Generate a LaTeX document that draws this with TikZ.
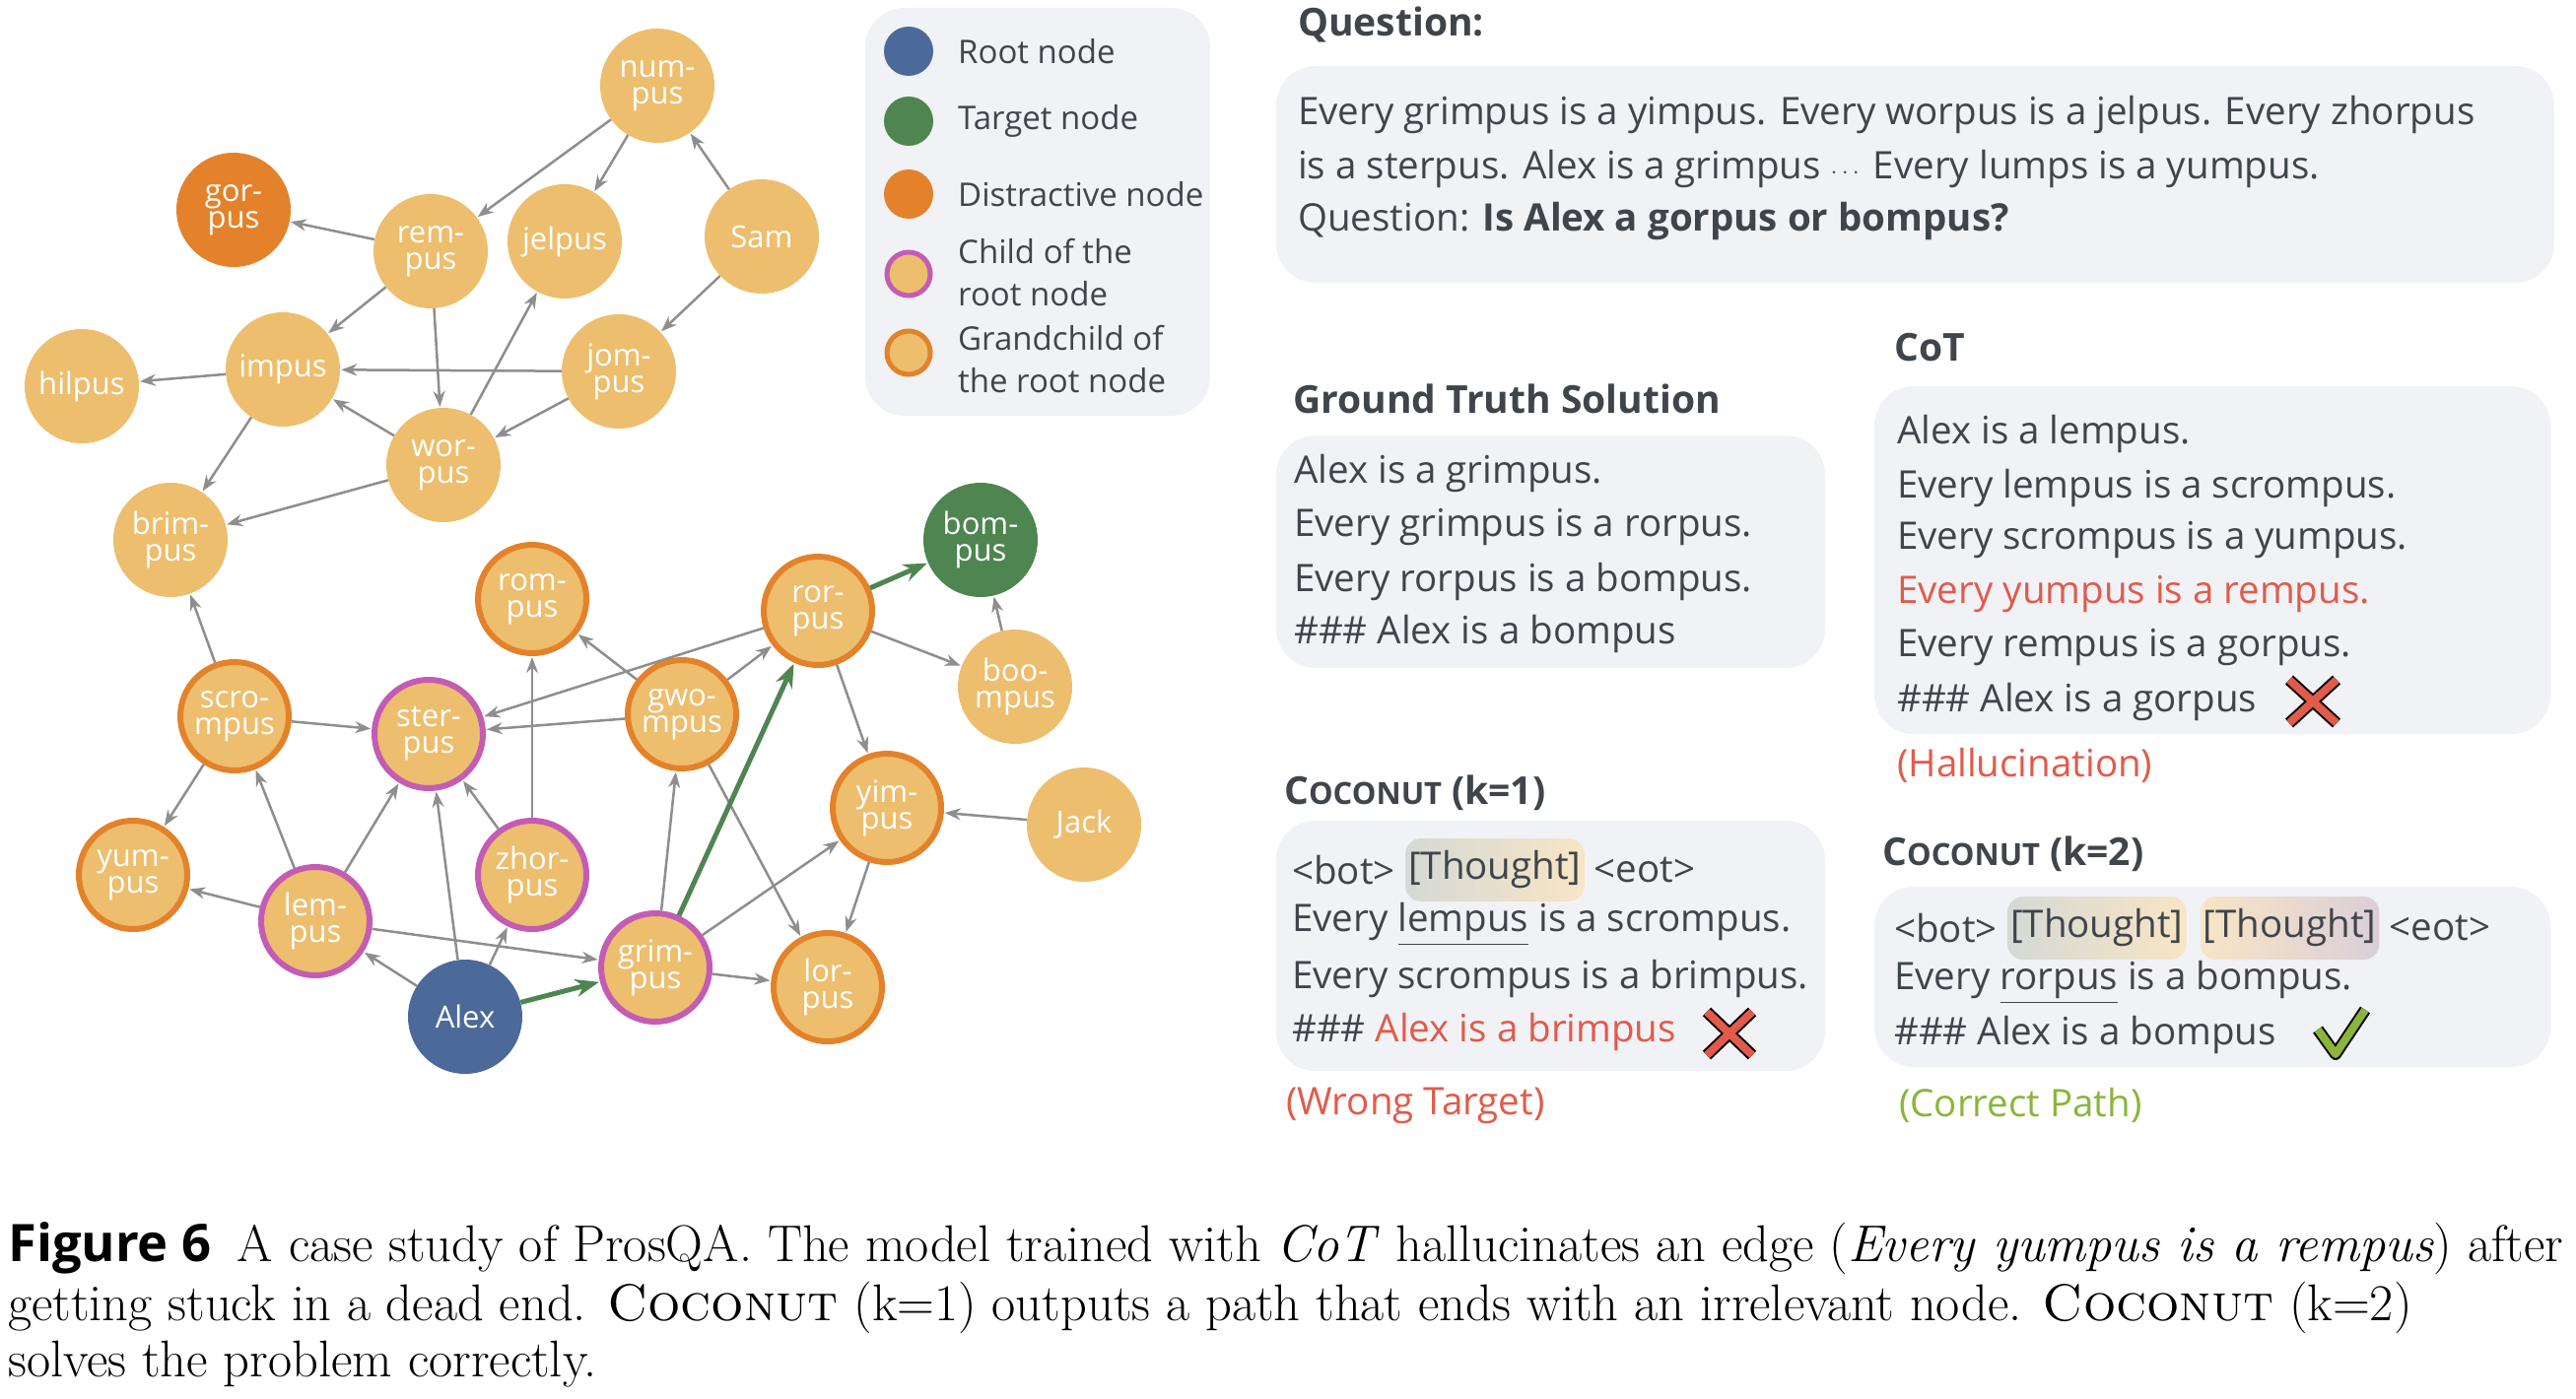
\documentclass[tikz,border=0pt]{standalone}
\usepackage{fontspec}
\usepackage{amsmath}
\usetikzlibrary{arrows.meta,positioning}
\newfontfamily\osans{Open Sans}
\definecolor{yel}{HTML}{EDBE6E}
\definecolor{org}{HTML}{E3822A}
\definecolor{pur}{HTML}{C45CB4}
\definecolor{rootc}{HTML}{4B6A99}
\definecolor{tgt}{HTML}{4E8550}
\definecolor{edg}{HTML}{8E8E8E}
\definecolor{boxc}{HTML}{F1F2F6}
\definecolor{txt}{HTML}{3F454B}
\definecolor{redc}{HTML}{E25A4A}
\definecolor{oliv}{HTML}{8AB53A}
\newcommand{\coco}{C{\fontsize{31}{34}\selectfont OCONUT}}

\begin{document}
\begin{tikzpicture}[x=1pt, y=-1pt, inner sep=0pt]
    \tikzstyle{nd}=[circle, minimum size=116pt, fill=yel, text=white, align=center,
        font=\osans\fontsize{31}{27}\selectfont]
    \tikzstyle{ch}=[nd, draw=pur, line width=6pt, minimum size=110pt]
    \tikzstyle{gc}=[nd, draw=org, line width=6pt, minimum size=110pt]
    \tikzstyle{ds}=[nd, fill=org]
    \tikzstyle{rt}=[nd, fill=rootc]
    \tikzstyle{tg}=[nd, fill=tgt]
    \tikzstyle{e}=[-{Stealth[length=16pt,width=12pt]}, draw=edg, line width=2.5pt, shorten >=1pt]
    \tikzstyle{p}=[-{Stealth[length=24pt,width=18pt]}, draw=tgt, line width=5pt, shorten >=1pt]
    \tikzstyle{bx}=[fill=boxc, rounded corners=40pt]
    \tikzstyle{tx}=[anchor=west, text=txt, font=\osans\fontsize{38.5}{40}\selectfont]
    \tikzstyle{hd}=[anchor=west, text=txt, font=\osans\bfseries\fontsize{39}{40}\selectfont]
    \tikzstyle{lg}=[anchor=west, text=txt, font=\osans\fontsize{33}{43}\selectfont, align=left]
    \tikzstyle{lgdot}=[circle, minimum size=50pt]
    \tikzstyle{th}=[text=txt, font=\osans\fontsize{38.5}{40}\selectfont, rounded corners=16pt,
        inner xsep=3pt, minimum height=64pt, text depth=10pt]
    \tikzstyle{thA}=[th, left color=tgt!25!gray!30!white, right color=yel!40!white]
    \tikzstyle{thB}=[th, left color=yel!40!white, right color=pur!30!gray!35!white]

    \useasboundingbox (0,0) rectangle (2614,1420);
    \fill[white] (0,0) rectangle (2614,1420);

    % legend
    \fill[bx] (878,8) rectangle (1228,422);
    \node[lgdot, fill=rootc] (L1) at (922,52) {};
    \node[lgdot, fill=tgt] (L2) at (922,123) {};
    \node[lgdot, fill=org] (L3) at (922,197) {};
    \node[lgdot, fill=yel, draw=pur, line width=5pt, minimum size=44pt] (L4) at (922,278) {};
    \node[lgdot, fill=yel, draw=org, line width=5pt, minimum size=44pt] (L5) at (922,358) {};
    \node[lg] at (972,52) {Root node};
    \node[lg] at (972,123) {Target node};
    \node[lg] at (972,197) {Distractive node};
    \node[lg] at (972,277) {Child of the\\root node};
    \node[lg] at (972,365) {Grandchild of\\the root node};

    % graph
    \node[nd] (num) at (667,87) {num-\\pus};
    \node[ds] (gor) at (237,213) {gor-\\pus};
    \node[nd] (rem) at (437,255) {rem-\\pus};
    \node[nd] (jel) at (573,245) {jelpus};
    \node[nd] (sam) at (773,240) {Sam};
    \node[nd] (hil) at (83,392) {hilpus};
    \node[nd] (imp) at (287,375) {impus};
    \node[nd] (jom) at (628,377) {jom-\\pus};
    \node[nd] (wor) at (450,472) {wor-\\pus};
    \node[nd] (bri) at (173,548) {brim-\\pus};
    \node[gc] (rom) at (540,608) {rom-\\pus};
    \node[gc] (ror) at (830,620) {ror-\\pus};
    \node[tg] (bom) at (995,548) {bom-\\pus};
    \node[nd] (boo) at (1030,697) {boo-\\mpus};
    \node[gc] (scr) at (238,727) {scro-\\mpus};
    \node[ch] (ste) at (435,745) {ster-\\pus};
    \node[gc] (gwo) at (692,725) {gwo-\\mpus};
    \node[gc] (yim) at (900,820) {yim-\\pus};
    \node[nd] (jac) at (1100,837) {Jack};
    \node[gc] (yum) at (135,888) {yum-\\pus};
    \node[ch] (lem) at (320,935) {lem-\\pus};
    \node[ch] (zho) at (540,888) {zhor-\\pus};
    \node[ch] (gri) at (665,982) {grim-\\pus};
    \node[gc] (lor) at (840,1002) {lor-\\pus};
    \node[rt] (alx) at (472,1032) {Alex};

    \draw[e] (num) to (rem);
    \draw[e] (num) to (jel);
    \draw[e] (sam) to (num);
    \draw[e] (sam) to (jom);
    \draw[e] (rem) to (gor);
    \draw[e] (rem) to (imp);
    \draw[e] (rem) to (wor);
    \draw[e] (imp) to (hil);
    \draw[e] (jom) to (imp);
    \draw[e] (wor) to (jel);
    \draw[e] (wor) to (imp);
    \draw[e] (jom) to (wor);
    \draw[e] (imp) to (bri);
    \draw[e] (wor) to (bri);
    \draw[e] (scr) to (bri);
    \draw[e] (scr) to (ste);
    \draw[e] (scr) to (yum);
    \draw[e] (lem) to (scr);
    \draw[e] (lem) to (ste);
    \draw[e] (lem) to (yum);
    \draw[e] (lem) to (gri);
    \draw[e] (alx) to (lem);
    \draw[e] (alx) to (ste);
    \draw[e] (alx) to (zho);
    \draw[e] (zho) to (ste);
    \draw[e] (zho) to (rom);
    \draw[e] (gwo) to (rom);
    \draw[e] (gwo) to (ste);
    \draw[e] (gwo) to (ror);
    \draw[e] (ror) to (ste);
    \draw[e] (ror) to (boo);
    \draw[e] (ror) to (yim);
    \draw[e] (boo) to (bom);
    \draw[e] (jac) to (yim);
    \draw[e] (yim) to (lor);
    \draw[e] (gri) to (gwo);
    \draw[e] (gri) to (yim);
    \draw[e] (gri) to (lor);
    \draw[e] (gwo) to (lor);
    \draw[p] (alx) to (gri);
    \draw[p] (gri) to (ror);
    \draw[p] (ror) to (bom);

    % question
    \node[hd] (qh) at (1317,25) {Question:};
    \fill[bx] (1295,67) rectangle (2592,287);
    \node[tx] (q1) at (1317,117) {Every grimpus is a yimpus. Every worpus is a jelpus. Every zhorpus};
    \node[tx] (q2) at (1317,172) {is a sterpus. Alex is a grimpus $\cdots$ Every lumps is a yumpus.};
    \node[tx] (q3) at (1317,225) {Question: \textbf{Is Alex a gorpus or bompus?}};

    % ground truth
    \node[hd] (gh) at (1312,405) {Ground Truth Solution};
    \fill[bx] (1295,442) rectangle (1852,678);
    \node[tx] (g1) at (1313,480) {Alex is a grimpus.};
    \node[tx] (g2) at (1313,535) {Every grimpus is a rorpus.};
    \node[tx] (g3) at (1313,590) {Every rorpus is a bompus.};
    \node[tx] (g4) at (1313,643) {\#\#\# Alex is a bompus};

    % cot
    \node[hd] (ch) at (1922,353) {CoT};
    \fill[bx] (1902,392) rectangle (2588,745);
    \node[tx] (c1) at (1925,440) {Alex is a lempus.};
    \node[tx] (c2) at (1925,495) {Every lempus is a scrompus.};
    \node[tx] (c3) at (1925,548) {Every scrompus is a yumpus.};
    \node[tx, text=redc] (c4) at (1925,603) {Every yumpus is a rempus.};
    \node[tx] (c5) at (1925,657) {Every rempus is a gorpus.};
    \node[tx] (c6) at (1925,712) {\#\#\# Alex is a gorpus};
    \node[tx, text=redc] (c7) at (1925,777) {(Hallucination)};

    % coconut k=1
    \node[hd] (k1h) at (1303,805) {\coco{} (k=1)};
    \fill[bx] (1295,833) rectangle (1852,1087);
    \node[tx] (k11) at (1311,883) {<bot>};
    \node[thA, right=10pt of k11] (k1t) {[Thought]};
    \node[tx, right=10pt of k1t] (k1e) {<eot>};
    \node[tx] (k12) at (1311,938) {Every \underline{lempus} is a scrompus.};
    \node[tx] (k13) at (1311,993) {Every scrompus is a brimpus.};
    \node[tx] (k14) at (1311,1047) {\#\#\# \textcolor{redc}{Alex is a brimpus}};
    \node[tx, text=redc] (k15) at (1305,1122) {(Wrong Target)};

    % coconut k=2
    \node[hd] (k2h) at (1910,867) {\coco{} (k=2)};
    \fill[bx] (1902,900) rectangle (2588,1083);
    \node[tx] (k21) at (1922,942) {<bot>};
    \node[thA, right=10pt of k21] (k2t) {[Thought]};
    \node[thB, right=14pt of k2t] (k2u) {[Thought]};
    \node[tx, right=10pt of k2u] (k2e) {<eot>};
    \node[tx] (k22) at (1922,997) {Every \underline{rorpus} is a bompus.};
    \node[tx] (k23) at (1922,1050) {\#\#\# Alex is a bompus};
    \node[tx, text=oliv] (k24) at (1927,1122) {(Correct Path)};

    % marks
    \draw[black, line width=12pt] (2323,690) -- (2371,734) (2371,690) -- (2323,734);
    \draw[redc, line width=8pt] (2323,690) -- (2371,734) (2371,690) -- (2323,734);
    \draw[black, line width=12pt] (1732,1027) -- (1778,1071) (1778,1027) -- (1732,1071);
    \draw[redc, line width=8pt] (1732,1027) -- (1778,1071) (1778,1027) -- (1732,1071);
    \draw[black, line width=12pt, line join=round] (2352,1045) -- (2370,1070) -- (2400,1025);
    \draw[oliv, line width=8pt, line join=round] (2352,1045) -- (2370,1070) -- (2400,1025);

    % caption
    \node[anchor=west, font=\fontsize{52.5}{56}\selectfont] (cap1) at (8,1267)
        {{\osans\bfseries Figure 6}\enspace A case study of ProsQA. The model trained with \textit{CoT} hallucinates an edge (\textit{Every yumpus is a rempus}) after};
    \node[anchor=west, font=\fontsize{52.5}{56}\selectfont] (cap2) at (8,1327)
        {getting stuck in a dead end. \textsc{Coconut} (k=1) outputs a path that ends with an irrelevant node. \textsc{Coconut} (k=2)};
    \node[anchor=west, font=\fontsize{52.5}{56}\selectfont] (cap3) at (8,1385)
        {solves the problem correctly.};
\end{tikzpicture}
\end{document}
